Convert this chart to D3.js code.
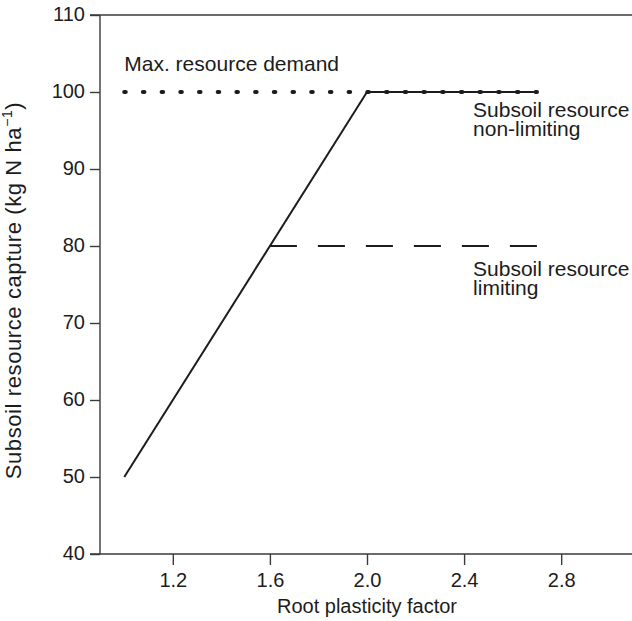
<!DOCTYPE html>
<html>
<head>
<meta charset="utf-8">
<script src="https://cdn.jsdelivr.net/npm/d3@7"></script>
<style>
  html, body { margin: 0; padding: 0; background: #fff; }
  svg { display: block; font-family: "Liberation Sans", Arial, Helvetica, sans-serif; }
</style>
</head>
<body>
<svg id="chart" width="632" height="621"></svg>
<script>
// Subsoil resource capture as a function of root plasticity
const xTicks = [1.2, 1.6, 2.0, 2.4, 2.8];
const yTicks = [40, 50, 60, 70, 80, 90, 100, 110];

// Capture rises linearly with plasticity until demand is met
const risingX = [1.0, 2.0];
const risingY = [50, 100];

// Maximum resource demand (dotted)
const demandX = [1.0, 2.7];
const demandY = [100, 100];

// Plateau when the subsoil resource is non-limiting (solid)
const nonLimitingX = [2.0, 2.7];
const nonLimitingY = [100, 100];

// Plateau when the subsoil resource is limiting (dashed)
const limitingX = [1.6, 2.7];
const limitingY = [80, 80];

const ink = "#1c1c1c";
const axisInk = "#3a3a3a";

const svg = d3.select("#chart");

const x = d3.scaleLinear().domain([0.9, 3.1]).range([100, 634]);
const y = d3.scaleLinear().domain([40, 110]).range([554, 15]);

const line = d3.line().x(d => x(d[0])).y(d => y(d[1]));
const pts = (xs, ys) => xs.map((v, i) => [v, ys[i]]);

// Frame: top rule, left axis, bottom axis
svg.append("line")
  .attr("x1", x(0.9) - 10).attr("x2", 632)
  .attr("y1", y(110)).attr("y2", y(110))
  .attr("stroke", axisInk).attr("stroke-width", 1.4);

const yAxis = svg.append("g")
  .attr("transform", `translate(${x(0.9)},0)`)
  .call(d3.axisLeft(y).tickValues(yTicks).tickSize(10).tickPadding(5).tickFormat(d3.format("d")));

const xAxis = svg.append("g")
  .attr("transform", `translate(0,${y(40)})`)
  .call(d3.axisBottom(x).tickValues(xTicks).tickSize(11).tickPadding(8).tickFormat(d3.format(".1f")).tickSizeOuter(0));

// extend bottom axis to the left to meet the 40 tick
xAxis.select(".domain").attr("d", `M${x(0.9) - 10},0H632`);

[yAxis, xAxis].forEach(g => {
  g.selectAll(".domain").attr("stroke", axisInk).attr("stroke-width", 1.4);
  g.selectAll(".tick line").attr("stroke", axisInk).attr("stroke-width", 1.4);
  g.selectAll(".tick text")
    .attr("fill", ink)
    .attr("font-size", 20)
    .attr("font-family", "Liberation Sans, Arial, sans-serif");
});
yAxis.selectAll(".tick text").attr("dy", "0.27em");
yAxis.select(".domain").attr("d", `M0,${y(110)}V${y(40)}`);

// Data lines
svg.append("path")
  .attr("d", line(pts(demandX, demandY)))
  .attr("fill", "none").attr("stroke", ink)
  .attr("stroke-width", 4.2).attr("stroke-linecap", "round")
  .attr("stroke-dasharray", "1.4,17.3");

svg.append("path")
  .attr("d", line(pts(limitingX, limitingY)))
  .attr("fill", "none").attr("stroke", ink)
  .attr("stroke-width", 2).attr("stroke-dasharray", "27,21");

svg.append("path")
  .attr("d", line(pts(risingX, risingY)))
  .attr("fill", "none").attr("stroke", ink)
  .attr("stroke-width", 2);

svg.append("path")
  .attr("d", line(pts(nonLimitingX, nonLimitingY)))
  .attr("fill", "none").attr("stroke", ink)
  .attr("stroke-width", 2);

// Annotations, one text element per line
const note = (xv, yv, dy, lines) => {
  lines.forEach((s, i) => svg.append("text")
    .attr("x", x(xv)).attr("y", y(yv) + dy + i * 19)
    .attr("fill", ink).attr("font-size", 21)
    .text(s));
};
note(1.0, 100, -21, ["Max. resource demand"]);
note(2.437, 100, 25, ["Subsoil resource", "non-limiting"]);
note(2.437, 80, 30, ["Subsoil resource", "limiting"]);

// Axis titles
svg.append("text")
  .attr("x", x(2.0)).attr("y", 613)
  .attr("text-anchor", "middle")
  .attr("fill", ink).attr("font-size", 20)
  .text("Root plasticity factor");

const yt = svg.append("text")
  .attr("transform", `translate(21,${(y(40) + y(110)) / 2 + 6}) rotate(-90)`)
  .attr("text-anchor", "middle")
  .attr("fill", ink).attr("font-size", 22)
  .attr("letter-spacing", 0.6);
yt.append("tspan").text("Subsoil resource capture (kg N ha");
yt.append("tspan").attr("font-size", 14).attr("dy", -9).text("−1");
yt.append("tspan").attr("dy", 9).text(")");
</script>
</body>
</html>
